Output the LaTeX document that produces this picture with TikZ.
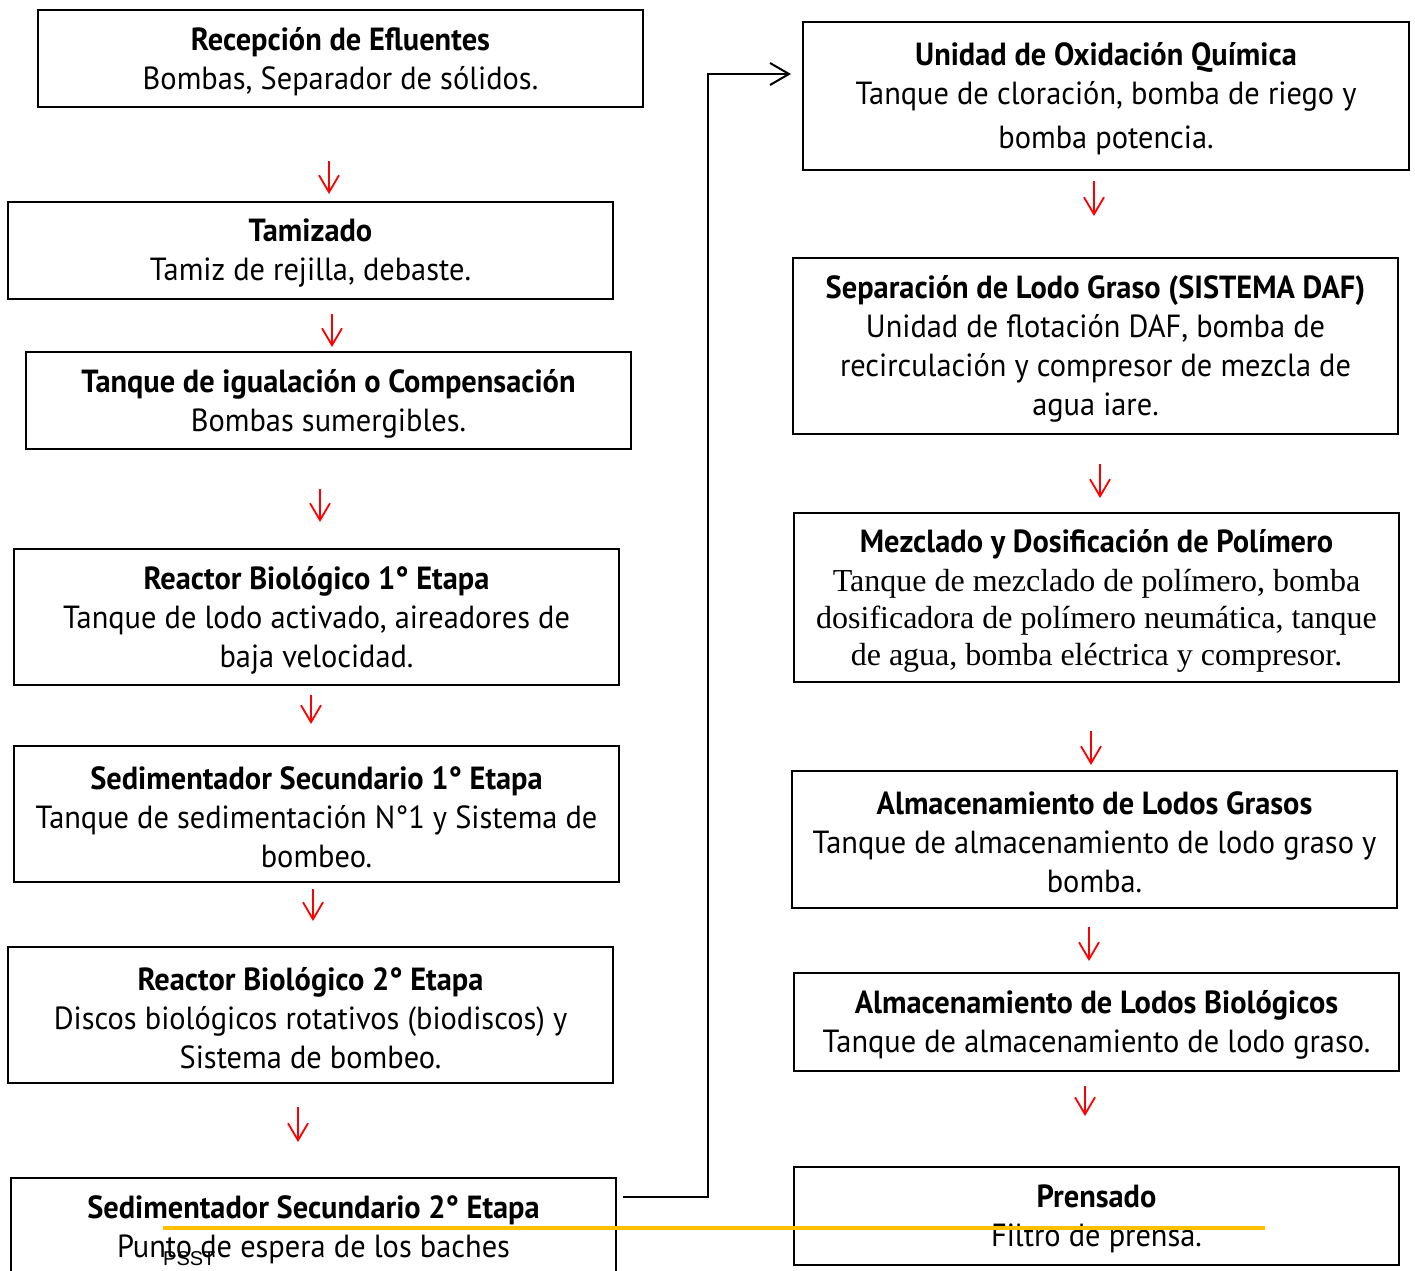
\documentclass[tikz,border=0pt]{standalone}
\usepackage{fontspec}
\setmainfont{PT Sans}[FakeStretch=0.95]
\newfontfamily\serifbody{Liberation Serif}
\newfontfamily\labelfont{Liberation Sans}
\usetikzlibrary{arrows.meta}

% one process stage: frame node #1 centred at #2, size #3 x #4, text #5
\newcommand\stagenode[6][]{%
  \node[stagebox, minimum width=#4, minimum height=#5] (#2) at (#3) {};
  \node[stagetext, #1] (#2-t) at ([yshift=-3pt]#2.center) {#6};
}

\begin{document}
\begin{tikzpicture}[x=1pt,y=-1pt,
  stagebox/.style={draw, line width=2pt, inner sep=0pt},
  stagetext/.style={align=center, inner sep=0pt,
    font=\fontsize{32}{39}\selectfont},
  flowdown/.style={draw=red, line width=1.8pt,
    -{Straight Barb[length=17pt,width=20pt]}},
  link/.style={draw=black, line width=2pt,
    -{Straight Barb[length=19pt,width=22pt]}},
  rule/.style={draw={rgb,255:red,255;green,192;blue,0}, line width=3.5pt}]

\useasboundingbox (0,0) rectangle (1415,1270);
\clip (0,0) rectangle (1415,1270);

% left column
\stagenode{rec}{340.5,58.5}{605}{97}
  {\textbf{Recepción de Efluentes}\\Bombas, Separador de sólidos.}
\stagenode{tam}{310.5,250.5}{605}{97}
  {\textbf{Tamizado}\\Tamiz de rejilla, debaste.}
\stagenode{igu}{328.5,400.5}{605}{97}
  {\textbf{Tanque de igualación o Compensación}\\Bombas sumergibles.}
\stagenode{rb1}{316.5,617}{605}{136}
  {\textbf{Reactor Biológico 1° Etapa}\\Tanque de lodo activado, aireadores de\\baja velocidad.}
\stagenode{sd1}{316.5,814}{605}{136}
  {\textbf{Sedimentador Secundario 1° Etapa}\\Tanque de sedimentación N°1 y Sistema de\\bombeo.}
\stagenode{rb2}{310.5,1015}{605}{136}
  {\textbf{Reactor Biológico 2° Etapa}\\Discos biológicos rotativos (biodiscos) y\\Sistema de bombeo.}
\stagenode{sd2}{313.5,1227}{605}{98}
  {\textbf{Sedimentador Secundario 2° Etapa}\\Punto de espera de los baches}

% right column
\stagenode{oxi}{1106,96}{606}{148}
  {\textbf{Unidad de Oxidación Química}\\Tanque de cloración, bomba de riego y\\[5pt]bomba potencia.}
\stagenode{daf}{1095.5,346}{605}{176}
  {\textbf{Separación de Lodo Graso (SISTEMA DAF)}\\Unidad de flotación DAF, bomba de\\recirculación y compresor de mezcla de\\agua iare.}
\stagenode[font=\fontsize{32}{37}\selectfont]{pol}{1096.5,597.5}{605}{169}
  {\textbf{Mezclado y Dosificación de Polímero}\\[2pt]
   {\serifbody\fontsize{32}{37}\selectfont Tanque de mezclado de polímero, bomba}\\
   {\serifbody\fontsize{32}{37}\selectfont dosificadora de polímero neumática, tanque}\\
   {\serifbody\fontsize{32}{37}\selectfont de agua, bomba eléctrica y compresor.}}
\stagenode{alg}{1094.5,839.5}{605}{137}
  {\textbf{Almacenamiento de Lodos Grasos}\\Tanque de almacenamiento de lodo graso y\\bomba.}
\stagenode{alb}{1096.5,1022}{605}{98}
  {\textbf{Almacenamiento de Lodos Biológicos}\\Tanque de almacenamiento de lodo graso.}
\stagenode{pre}{1096.5,1216}{605}{98}
  {\textbf{Prensado}\\Filtro de prensa.}

% red step arrows between the stages
\foreach \nm/\x/\ya/\yb in {a1/329/161/194, a2/332/314/347, a3/320/489/522,
    a4/311/695/724, a5/313/889/921, a6/298/1107/1142,
    b1/1094/181/216, b2/1100/464/498, b3/1091/731/765,
    b4/1089/927/961, b5/1085/1086/1116}{
  \coordinate (\nm s) at (\x,\ya);
  \coordinate (\nm e) at (\x,\yb);
  \draw[flowdown] (\nm s) -- (\nm e);
}

% link from the last left stage to the top of the right column
\draw[link] ([shift={(6,20)}]sd2.north east) -- ++(85,0)
  |- ([shift={(-11,-22)}]oxi.west);

% page footer mark
\node[font=\labelfont\fontsize{20}{20}\selectfont, anchor=base west,
  inner sep=0pt] (psst) at (163,1265) {PSST};
\coordinate (rl) at (163,1228);
\coordinate (rr) at (1265,1228);
\draw[rule] (rl) -- (rr);
\end{tikzpicture}
\end{document}
